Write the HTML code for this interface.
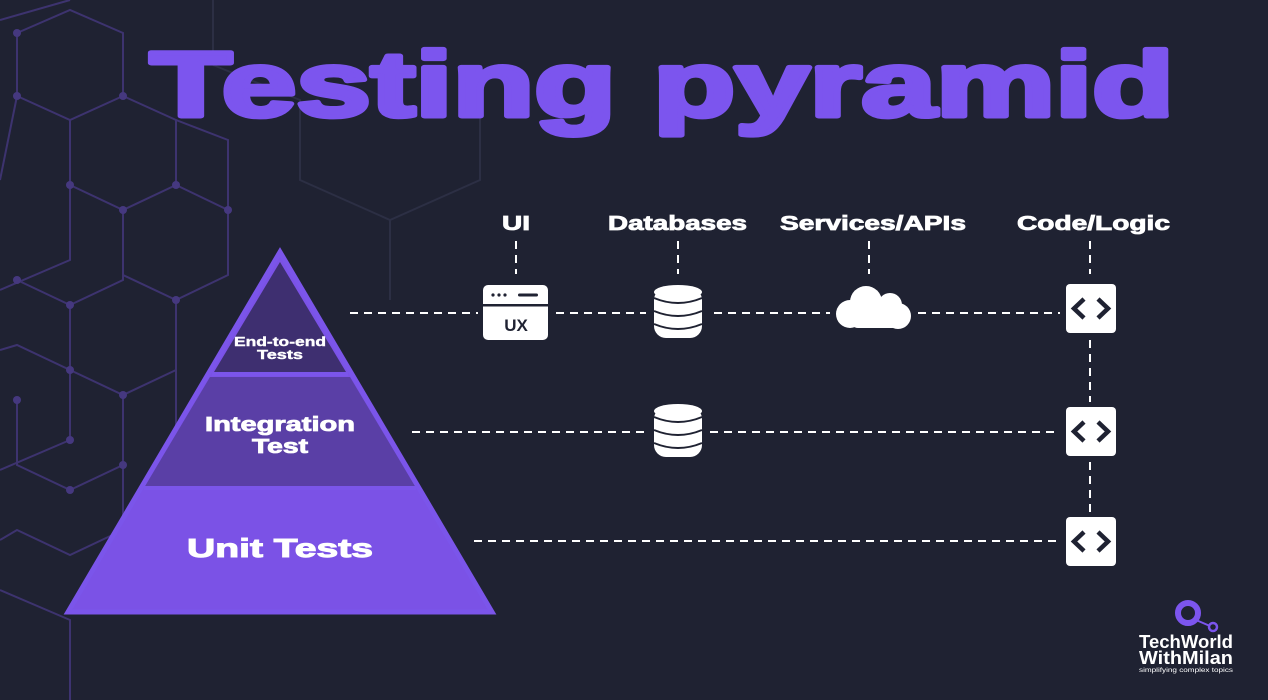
<!DOCTYPE html>
<html><head><meta charset="utf-8"><style>
html,body{margin:0;padding:0;background:#1f2232;}
svg{display:block;font-family:"Liberation Sans",sans-serif;}
</style></head><body>
<svg width="1268" height="700" viewBox="0 0 1268 700" xmlns="http://www.w3.org/2000/svg">
<rect width="1268" height="700" fill="#1f2232"/>
<g stroke="#45387f" stroke-width="2" fill="none" opacity="0.8">
<polyline points="0,20 70,0"/>
<polyline points="17,33 70,10 123,33 123,96 70,120 17,96 17,33"/>
<polyline points="70,120 70,185 123,210 176,185 176,120 123,96"/>
<polyline points="0,180 17,96"/>
<polyline points="123,210 123,275 176,300 228,275 228,210 176,185"/>
<polyline points="0,290 70,260 70,185"/>
<polyline points="17,280 70,305 123,280 123,210"/>
<polyline points="70,305 70,370 123,395 176,370 176,300"/>
<polyline points="0,470 70,440 70,370 17,345 0,350"/>
<polyline points="17,400 17,465 70,490 123,465 123,395"/>
<polyline points="123,465 123,530 70,555 17,530 0,540"/>
<polyline points="0,590 70,620 70,700"/>
<polyline points="176,370 176,440 228,465"/>
<polyline points="228,210 228,140 176,120"/>
</g>
<g stroke="#2c2f44" stroke-width="2" fill="none">
<polyline points="213,65 300,100 300,180 390,220 480,180 480,100"/>
<polyline points="390,220 390,300"/>
<polyline points="213,0 213,65"/>
</g>
<g fill="#45387f"><circle cx="17" cy="33" r="4"/><circle cx="17" cy="96" r="4"/><circle cx="70" cy="185" r="4"/><circle cx="123" cy="96" r="4"/><circle cx="123" cy="210" r="4"/><circle cx="70" cy="305" r="4"/><circle cx="176" cy="300" r="4"/><circle cx="70" cy="370" r="4"/><circle cx="123" cy="395" r="4"/><circle cx="17" cy="280" r="4"/><circle cx="70" cy="490" r="4"/><circle cx="123" cy="465" r="4"/><circle cx="70" cy="440" r="4"/><circle cx="17" cy="400" r="4"/><circle cx="176" cy="185" r="4"/><circle cx="228" cy="210" r="4"/></g>
<text x="150" y="116" font-size="92" font-weight="bold" fill="#7c55ee" stroke="#7c55ee" stroke-width="5" stroke-linejoin="round" textLength="1024" lengthAdjust="spacingAndGlyphs">Testing pyramid</text>
<polygon points="280,252 68,612 492,612" fill="#7b52e6"/>
<polygon points="280,262 214,372 346,372" fill="#3e2f70"/>
<polygon points="210,377 350,377 415,486 145,486" fill="#5a3fa6"/>
<polygon points="280,252 68,612 492,612" fill="none" stroke="#7b55ea" stroke-width="5"/>
<line x1="212" y1="374" x2="348" y2="374" stroke="#7b55ea" stroke-width="4"/>
<line x1="144" y1="488" x2="416" y2="488" stroke="#7b55ea" stroke-width="4"/>
<g fill="#fff" stroke="#fff" font-weight="bold" text-anchor="middle">
<text x="280" y="346" font-size="13" stroke-width="0.4" textLength="92" lengthAdjust="spacingAndGlyphs">End-to-end</text>
<text x="280" y="359" font-size="13" stroke-width="0.4" textLength="46" lengthAdjust="spacingAndGlyphs">Tests</text>
<text x="280" y="431" font-size="20" stroke-width="0.8" textLength="150" lengthAdjust="spacingAndGlyphs">Integration</text>
<text x="280" y="453" font-size="20" stroke-width="0.8" textLength="56" lengthAdjust="spacingAndGlyphs">Test</text>
<text x="280" y="557" font-size="26" stroke-width="1" textLength="186" lengthAdjust="spacingAndGlyphs">Unit Tests</text>
</g>
<g fill="#fff" stroke="#fff" stroke-width="0.8" font-weight="bold" font-size="20">
<text x="502" y="230" textLength="28" lengthAdjust="spacingAndGlyphs">UI</text>
<text x="608" y="230" textLength="139" lengthAdjust="spacingAndGlyphs">Databases</text>
<text x="780" y="230" textLength="186" lengthAdjust="spacingAndGlyphs">Services/APIs</text>
<text x="1017" y="230" textLength="153" lengthAdjust="spacingAndGlyphs">Code/Logic</text>
</g>
<g stroke="#fff" stroke-width="2" stroke-dasharray="8,6" fill="none">
<line x1="516" y1="241" x2="516" y2="274"/>
<line x1="678" y1="241" x2="678" y2="274"/>
<line x1="869" y1="241" x2="869" y2="274"/>
<line x1="1090" y1="241" x2="1090" y2="274"/>
<line x1="350" y1="313" x2="478" y2="313"/>
<line x1="556" y1="313" x2="646" y2="313"/>
<line x1="714" y1="313" x2="830" y2="313"/>
<line x1="918" y1="313" x2="1060" y2="313"/>
<line x1="412" y1="432" x2="646" y2="432"/>
<line x1="710" y1="432" x2="1060" y2="432"/>
<line x1="474" y1="541" x2="1060" y2="541"/>
<line x1="1090" y1="340" x2="1090" y2="402"/>
<line x1="1090" y1="462" x2="1090" y2="512"/>
</g>
<rect x="483" y="285" width="65" height="55" rx="5" fill="#fff"/>
<rect x="483" y="304" width="65" height="2.5" fill="#1f2232"/>
<g fill="#1f2232"><circle cx="493" cy="295" r="1.6"/><circle cx="499" cy="295" r="1.6"/><circle cx="505" cy="295" r="1.6"/><rect x="518" y="293.5" width="20" height="3" rx="1.5"/></g>
<text x="516" y="331" font-size="17" font-weight="bold" fill="#1f2232" text-anchor="middle">UX</text>
<g id="db">
<rect x="654" y="288" width="48" height="50" rx="12" fill="#fff"/>
<ellipse cx="678" cy="292" rx="24" ry="7" fill="#fff"/>
<g stroke="#1f2232" stroke-width="2" fill="none">
<path d="M654,298 Q678,308 702,298"/>
<path d="M654,311 Q678,321 702,311"/>
<path d="M654,324 Q678,334 702,324"/>
</g>
</g>
<use href="#db" y="119"/>
<g fill="#fff">
<circle cx="866" cy="302" r="16"/><circle cx="890" cy="305" r="12"/><circle cx="850" cy="314" r="14"/><circle cx="898" cy="316" r="13"/>
<rect x="850" y="308" width="50" height="20" rx="8"/>
</g>
<g id="code">
<rect x="1066" y="284" width="50" height="49" rx="4" fill="#fff"/>
<path d="M1084,299 L1074,308.5 L1084,318 M1098,299 L1108,308.5 L1098,318" stroke="#1f2232" stroke-width="4.5" fill="none"/>
</g>
<use href="#code" y="123"/>
<use href="#code" y="233"/>
<g>
<circle cx="1188" cy="613" r="10" fill="none" stroke="#7c55ee" stroke-width="6"/>
<line x1="1196" y1="620" x2="1210" y2="626" stroke="#7c55ee" stroke-width="2"/>
<circle cx="1213" cy="627" r="4" fill="none" stroke="#7c55ee" stroke-width="2.5"/>
<text x="1139" y="648" font-size="18" font-weight="bold" fill="#fff" textLength="94" lengthAdjust="spacingAndGlyphs">TechWorld</text>
<text x="1139" y="664" font-size="18" font-weight="bold" fill="#fff" textLength="94" lengthAdjust="spacingAndGlyphs">WithMilan</text>
<text x="1139" y="672" font-size="6.5" fill="#fff" textLength="94" lengthAdjust="spacingAndGlyphs">simplifying complex topics</text>
</g>
</svg>
</body></html>
